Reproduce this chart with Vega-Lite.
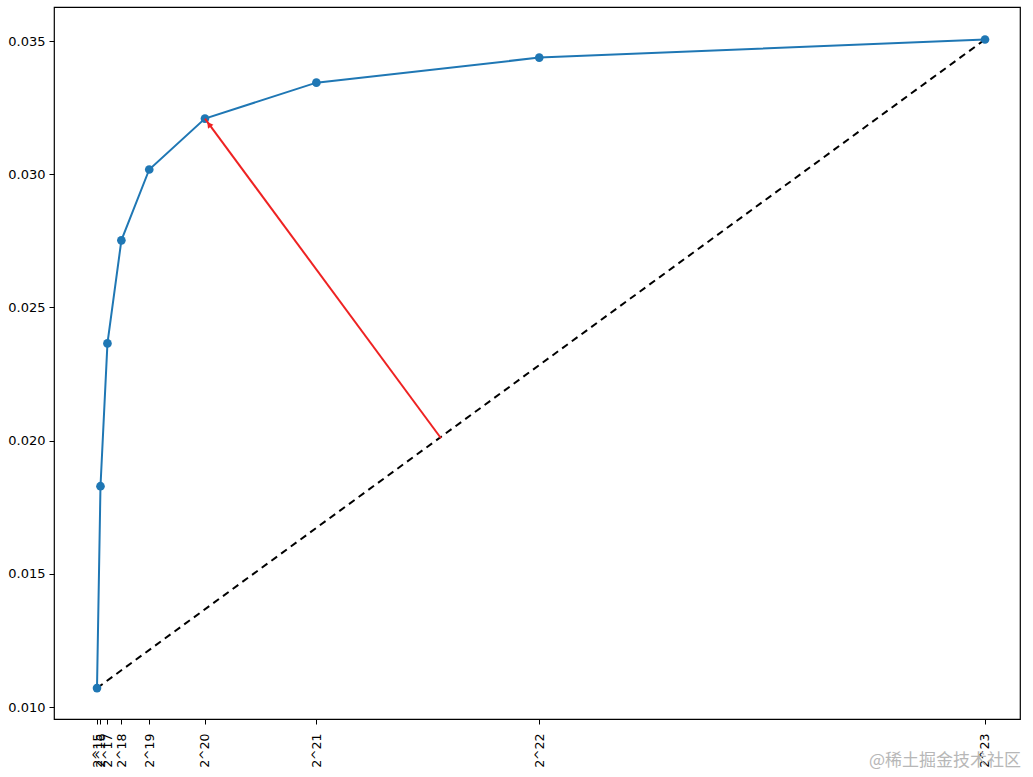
{
  "$schema": "https://vega.github.io/schema/vega-lite/v6.json",
  "width": 966,
  "height": 712,
  "autosize": {"type": "none"},
  "padding": {"left": 54, "top": 7, "right": 13, "bottom": 58},
  "background": "white",
  "config": {
    "view": {"stroke": "black", "strokeWidth": 1.2},
    "axis": {
      "domain": false,
      "grid": false,
      "ticks": true,
      "tickColor": "black",
      "tickSize": 5,
      "labelColor": "black",
      "labelFont": "DejaVu Sans",
      "labelFontSize": 12.5,
      "labelPadding": 4,
      "title": null
    }
  },
  "datasets": {
    "series": [
      {"n": 32768, "v": 0.01071},
      {"n": 65536, "v": 0.01829},
      {"n": 131072, "v": 0.02365},
      {"n": 262144, "v": 0.02752},
      {"n": 524288, "v": 0.03018},
      {"n": 1048576, "v": 0.03209},
      {"n": 2097152, "v": 0.03344},
      {"n": 4194304, "v": 0.03438},
      {"n": 8388608, "v": 0.03506}
    ],
    "chord": [{"n": 32768, "v": 0.01071, "n2": 8388608, "v2": 0.03506}],
    "arrow": [{"n": 3269806, "v": 0.02009, "n2": 1048576, "v2": 0.03209}],
    "head": [{"n": 1086687, "v": 0.03187}],
    "mark": [{"label": "@稀土掘金技术社区", "n": 8012442, "v": 0.007975}]
  },
  "layer": [
    {
      "data": {"name": "chord"},
      "mark": {"type": "rule", "color": "black", "strokeWidth": 2, "strokeDash": [7, 5]},
      "encoding": {
        "x": {"field": "n", "type": "quantitative", "scale": {"domain": [-371862, 8717958], "nice": false, "zero": false},
          "axis": {"values": [32768, 65536, 131072, 262144, 524288, 1048576, 2097152, 4194304, 8388608],
            "labelExpr": "'2^' + round(log(datum.value) / LN2)", "labelAngle": 270, "labelAlign": "right", "labelBaseline": "middle", "labelPadding": 9, "labelOverlap": false, "labelBound": false, "labelFlush": false}},
        "y": {"field": "v", "type": "quantitative", "scale": {"domain": [0.00955, 0.03628], "nice": false, "zero": false},
          "axis": {"values": [0.010, 0.015, 0.020, 0.025, 0.030, 0.035], "format": ".3f", "labelFontSize": 13}},
        "x2": {"field": "n2"},
        "y2": {"field": "v2"}
      }
    },
    {
      "data": {"name": "series"},
      "mark": {"type": "line", "color": "#1f77b4", "strokeWidth": 2},
      "encoding": {
        "x": {"field": "n", "type": "quantitative"},
        "y": {"field": "v", "type": "quantitative"}
      }
    },
    {
      "data": {"name": "series"},
      "mark": {"type": "point", "filled": true, "color": "#1f77b4", "opacity": 1, "size": 75},
      "encoding": {
        "x": {"field": "n", "type": "quantitative"},
        "y": {"field": "v", "type": "quantitative"}
      }
    },
    {
      "data": {"name": "arrow"},
      "mark": {"type": "rule", "color": "#ee2222", "strokeWidth": 2},
      "encoding": {
        "x": {"field": "n", "type": "quantitative"},
        "y": {"field": "v", "type": "quantitative"},
        "x2": {"field": "n2"},
        "y2": {"field": "v2"}
      }
    },
    {
      "data": {"name": "head"},
      "mark": {"type": "point", "shape": "triangle-up", "filled": true, "color": "#ee2222", "opacity": 1, "size": 45, "angle": 324},
      "encoding": {
        "x": {"field": "n", "type": "quantitative"},
        "y": {"field": "v", "type": "quantitative"}
      }
    },
    {
      "data": {"name": "mark"},
      "mark": {"type": "text", "font": "Noto Sans CJK SC", "fontSize": 17, "color": "#b0b0b0", "align": "center", "baseline": "middle", "opacity": 0.9, "clip": false},
      "encoding": {
        "x": {"field": "n", "type": "quantitative"},
        "y": {"field": "v", "type": "quantitative"},
        "text": {"field": "label"}
      }
    }
  ]
}
